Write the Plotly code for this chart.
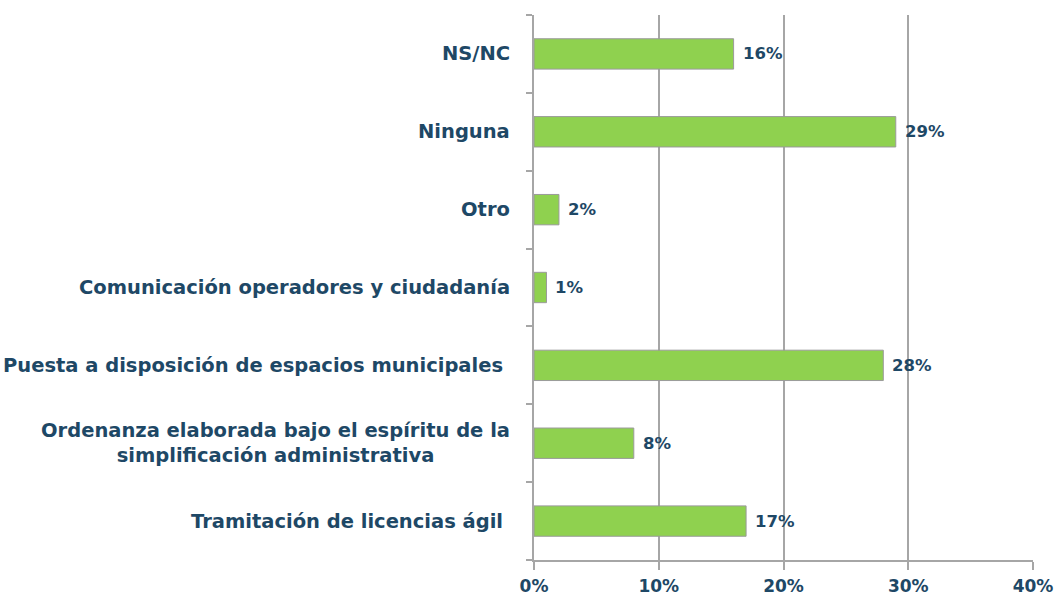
import plotly.graph_objects as go

# Survey categories, listed top to bottom as shown
categories = [
    "NS/NC",
    "Ninguna",
    "Otro",
    "Comunicación operadores y ciudadanía",
    "Puesta a disposición de espacios municipales",
    "Ordenanza elaborada bajo el espíritu de la<br>simplificación administrativa",
    "Tramitación de licencias ágil",
]
percentages = [16, 29, 2, 1, 28, 8, 17]
x_ticks = [0, 10, 20, 30, 40]
x_tick_labels = ["0%", "10%", "20%", "30%", "40%"]

TEXT_COLOR = "#1e4866"
FONT = "DejaVu Sans"

fig = go.Figure(
    go.Bar(
        x=percentages,
        y=categories,
        orientation="h",
        marker=dict(color="#8fd14f", line=dict(color="#9a9a9a", width=1)),
        width=0.39,
        hoverinfo="skip",
    )
)

# Value labels just right of each bar end
for cat, v in zip(categories, percentages):
    fig.add_annotation(
        x=v, xref="x", y=cat, yref="y",
        text=f"{v}%", showarrow=False,
        xanchor="left", xshift=7,
        font=dict(family=FONT, size=16.5, color=TEXT_COLOR, weight="bold"),
    )

# Category labels as annotations so the two-line label stays centred
label_shift = {
    "Puesta a disposición de espacios municipales": -29,
    "Tramitación de licencias ágil": -29,
}
for cat in categories:
    fig.add_annotation(
        x=0, xref="paper", y=cat, yref="y",
        text=cat, showarrow=False,
        xanchor="right", xshift=label_shift.get(cat, -22), align="center",
        font=dict(family=FONT, size=19.5, color=TEXT_COLOR, weight="bold"),
    )

fig.update_layout(
    width=1057, height=602,
    margin=dict(l=534, r=24, t=15, b=42, autoexpand=False),
    paper_bgcolor="white", plot_bgcolor="white",
    showlegend=False,
    xaxis=dict(
        range=[0, 40], tickvals=x_ticks, ticktext=x_tick_labels,
        showgrid=True, gridcolor="#a6a6a6", gridwidth=1.5,
        showline=True, linecolor="#a6a6a6", linewidth=1.5,
        ticks="outside", ticklen=8, tickcolor="#a6a6a6", tickwidth=1.5,
        ticklabelstandoff=2, automargin=False,
        tickfont=dict(family=FONT, size=17, color=TEXT_COLOR, weight="bold"),
        zeroline=False, fixedrange=True,
    ),
    yaxis=dict(
        categoryorder="array", categoryarray=categories[::-1],
        showticklabels=False, tickson="boundaries", automargin=False,
        ticks="outside", ticklen=6, tickcolor="#a6a6a6", tickwidth=1.5,
        showline=True, linecolor="#a6a6a6", linewidth=1.5,
        showgrid=False, fixedrange=True,
    ),
)

fig.write_html("out.html")
